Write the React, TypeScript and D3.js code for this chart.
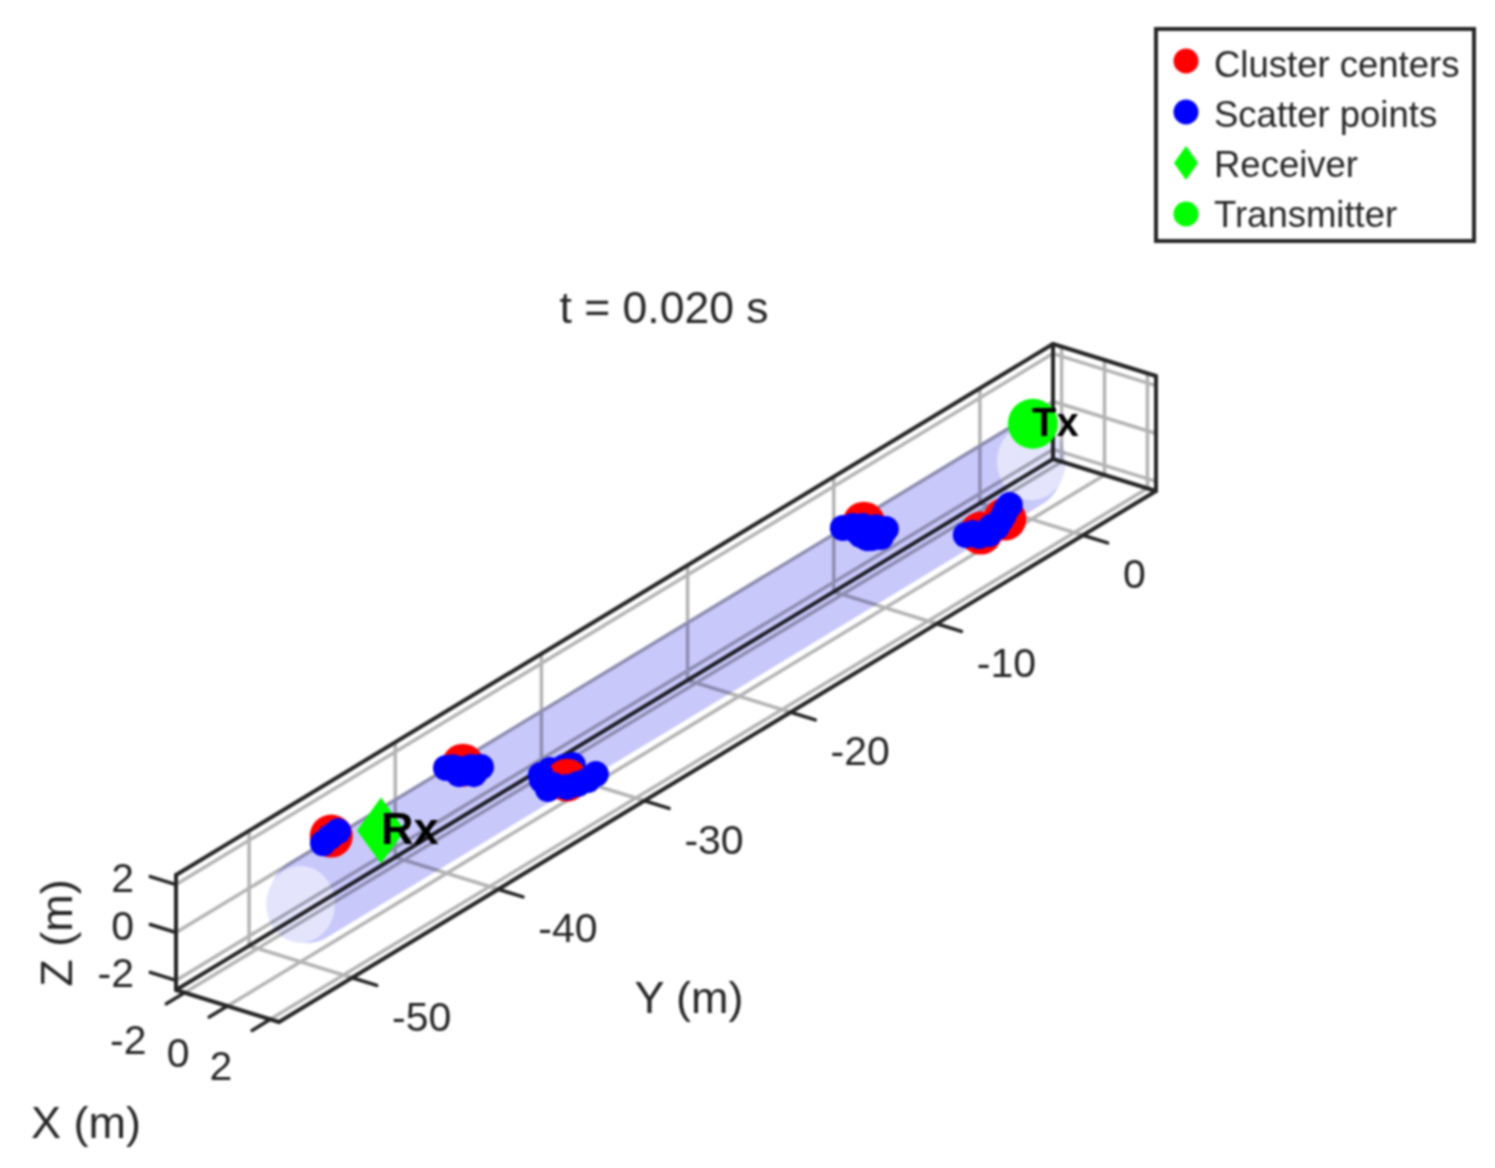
import * as d3 from "d3";

type P3 = [number, number, number];

const xDomain = [-2.4, 2.4];
const yDomain = [-55, 5];
const zDomain = [-2.4, 2.4];
const xTicks = [-2, 0, 2];
const yTicks = [-50, -40, -30, -20, -10, 0];
const zTicks = [-2, 0, 2];

// [x, y, z] in metres
const clusterCenters: P3[] = [
  [0, -47.9, 2.07],
  [0, -38.89, 1.7],
  [0, -31.78, -1.55],
  [0, -11.46, 1.67],
  [0, -3.46, -1.7],
  [0, -1.82, -1.72],
];
const scatterBehind: P3[] = [
  [0, -31.98, -0.93],
  [0, -32.94, -0.7],
  [0, -31.37, -1.07],
];
const scatterFront: P3[] = [
  [0, -48.47, 1.98],
  [0, -47.99, 2.06],
  [0, -47.44, 2.1],
  [0, -40.05, 2.01],
  [0, -39.58, 1.87],
  [0, -39.37, 1.67],
  [0, -39.17, 1.43],
  [0, -38.69, 1.3],
  [0, -38.34, 1.42],
  [0, -38.14, 1.05],
  [0, -38.0, 1.17],
  [0, -37.66, 1.17],
  [0, -38.89, 1.54],
  [0, -33.56, -0.68],
  [0, -33.49, -0.91],
  [0, -33.08, -1.44],
  [0, -32.67, -1.43],
  [0, -31.78, -1.84],
  [0, -31.03, -1.99],
  [0, -30.34, -2.08],
  [0, -29.8, -2.03],
  [0, -12.9, 2.0],
  [0, -12.22, 1.83],
  [0, -12.01, 1.58],
  [0, -11.67, 1.25],
  [0, -11.53, 1.58],
  [0, -11.33, 1.37],
  [0, -11.26, 0.97],
  [0, -10.92, 0.85],
  [0, -10.64, 1.2],
  [0, -10.3, 0.95],
  [0, -10.3, 0.66],
  [0, -9.96, 0.87],
  [0, -4.49, -1.4],
  [0, -4.01, -1.49],
  [0, -3.6, -1.77],
  [0, -2.91, -1.94],
  [0, -2.78, -1.7],
  [0, -2.37, -1.85],
  [0, -2.09, -1.66],
  [0, -1.89, -1.52],
  [0, -1.75, -1.37],
  [0, -1.48, -1.26],
];
const receiver: P3 = [0, -44.5, 1.05];
const transmitter: P3 = [0, 0.1, 1.55];
const capCenters = [-50, 0];
const capRadius = 1.6;
const bandEnds = [-49.5, -0.5];
const bandRadius = 1.8;

const legendLabels = ["Cluster centers", "Scatter points", "Receiver", "Transmitter"];
const legendColors = ["#ff0000", "#0000ff", "#00ff00", "#00ff00"];

const W = 1495;
const H = 1168;
const ink = "#262626";
const font = "'Liberation Sans', Arial, sans-serif";

// the fixed MATLAB view, flattened into linear scales per axis
const xToH = d3.scaleLinear(xDomain, [0, 103]);
const xToV = d3.scaleLinear(xDomain, [0, 32]);
const yToH = d3.scaleLinear(yDomain, [0, 877]);
const yToV = d3.scaleLinear(yDomain, [0, -531]);
const zToV = d3.scaleLinear(zDomain, [0, -115]);

function project([x, y, z]: P3): [number, number] {
  return [176 + xToH(x) + yToH(y), 990 + xToV(x) + yToV(y) + zToV(z)];
}

const line = d3.line();
const closed = d3.line().curve(d3.curveLinearClosed);

function seg(a: P3, b: P3) {
  return line([project(a), project(b)]) as string;
}

// the tube ends look round on screen, not tilted with the x axis
function ring(y: number, radius: number): [number, number][] {
  const [cx, cy] = project([0, y, 0]);
  const rh = xToH(radius) - xToH(0);
  const rv = zToV(0) - zToV(radius);
  return d3.range(72).map((i) => {
    const t = (i / 72) * 2 * Math.PI;
    return [cx + rh * Math.cos(t), cy + rv * Math.sin(t)];
  });
}

const [x0, x1] = xDomain;
const [y0, y1] = yDomain;
const [z0, z1] = zDomain;

const gridLines: string[] = [
  ...xTicks.flatMap((x) => [seg([x, y0, z0], [x, y1, z0]), seg([x, y1, z0], [x, y1, z1])]),
  ...yTicks.flatMap((y) => [seg([x0, y, z0], [x1, y, z0]), seg([x0, y, z0], [x0, y, z1])]),
  ...zTicks.flatMap((z) => [seg([x0, y0, z], [x0, y1, z]), seg([x0, y1, z], [x1, y1, z])]),
];

const boxLines: string[] = [
  seg([x0, y0, z0], [x0, y0, z1]),
  seg([x0, y0, z1], [x0, y1, z1]),
  seg([x0, y1, z1], [x1, y1, z1]),
  seg([x1, y1, z1], [x1, y1, z0]),
  seg([x1, y1, z0], [x0, y1, z0]),
  seg([x0, y1, z0], [x0, y0, z0]),
  seg([x0, y0, z0], [x1, y0, z0]),
  seg([x1, y0, z0], [x1, y1, z0]),
  seg([x0, y1, z0], [x0, y1, z1]),
];

const tickLines: string[] = [
  ...yTicks.map((y) => seg([x1, y, z0], [x1 + 1.15, y, z0])),
  ...xTicks.map((x) => seg([x, y0, z0], [x, y0 - 1.25, z0])),
  ...zTicks.map((z) => seg([x0, y0, z], [x0 - 1.2, y0, z])),
];

const bandHull = d3.polygonHull([
  ...ring(bandEnds[0], bandRadius),
  ...ring(bandEnds[1], bandRadius),
]) as [number, number][];

const diamond = (cx: number, cy: number, w: number, h: number) =>
  closed([
    [cx - w, cy],
    [cx, cy - h],
    [cx + w, cy],
    [cx, cy + h],
  ]) as string;

export default function App() {
  const rx = project(receiver);
  const tx = project(transmitter);
  return (
    <svg
      width={W}
      height={H}
      viewBox={`0 0 ${W} ${H}`}
      style={{ position: "absolute", left: 0, top: 0, display: "block", background: "#fff", filter: "blur(1px)" }}
      fontFamily={font}
    >
      <text x={664} y={323} fontSize={44.5} fill={ink} textAnchor="middle">
        t = 0.020 s
      </text>

      {/* walls and floor */}
      <g fill="none" stroke="#b4b4b4" strokeWidth={3.5}>
        {gridLines.map((d, i) => (
          <path key={i} d={d} />
        ))}
      </g>
      <g fill="none" stroke={ink} strokeWidth={4} strokeLinecap="round">
        {boxLines.map((d, i) => (
          <path key={i} d={d} />
        ))}
        {tickLines.map((d, i) => (
          <path key={i} d={d} strokeWidth={3.5} />
        ))}
      </g>

      {/* see-through tube */}
      <g style={{ mixBlendMode: "multiply" }}>
        <path d={closed(bandHull) as string} fill="#c8c8fb" />
        {capCenters.map((y) => (
          <path key={y} d={closed(ring(y, capRadius)) as string} fill="#e4e4fd" />
        ))}
      </g>

      {/* tick labels */}
      <g fontSize={41} fill={ink}>
        {yTicks.map((y) => {
          const [px, py] = project([x1, y, z0]);
          return (
            <text key={y} x={px + 40} y={py + 53}>
              {y}
            </text>
          );
        })}
        {xTicks.map((x) => {
          const [px, py] = project([x, y0, z0]);
          return (
            <text key={x} x={px - 38} y={py + 61} textAnchor="end">
              {x}
            </text>
          );
        })}
        {zTicks.map((z) => {
          const [px, py] = project([x0, y0, z]);
          return (
            <text key={z} x={px - 42} y={py + 7} textAnchor="end">
              {z}
            </text>
          );
        })}
      </g>

      {/* axis labels */}
      <g fontSize={45} fill={ink}>
        <text x={689} y={1013} textAnchor="middle">
          Y (m)
        </text>
        <text x={86} y={1138} textAnchor="middle">
          X (m)
        </text>
        <text transform="translate(72,933) rotate(-90)" textAnchor="middle">
          Z (m)
        </text>
      </g>

      {/* scatter, back to front */}
      <g fill={legendColors[1]}>
        {scatterBehind.map((p, i) => {
          const [cx, cy] = project(p);
          return <circle key={i} cx={cx} cy={cy} r={13} />;
        })}
      </g>
      <g fill={legendColors[0]}>
        {clusterCenters.map((p, i) => {
          const [cx, cy] = project(p);
          return <circle key={i} cx={cx} cy={cy} r={21.5} />;
        })}
      </g>
      <g fill={legendColors[1]}>
        {scatterFront.map((p, i) => {
          const [cx, cy] = project(p);
          return <circle key={i} cx={cx} cy={cy} r={13} />;
        })}
      </g>

      <path d={diamond(rx[0], rx[1], 24, 33)} fill={legendColors[2]} />
      <circle cx={tx[0]} cy={tx[1]} r={25} fill={legendColors[3]} />
      <g fontWeight="bold" fill="#000">
        <text x={381} y={844} fontSize={45}>
          Rx
        </text>
        <text x={1032} y={436} fontSize={40}>
          Tx
        </text>
      </g>

      {/* legend */}
      <rect x={1156} y={29} width={318} height={212} fill="#fff" stroke={ink} strokeWidth={4} />
      {legendLabels.map((label, i) => {
        const cy = 61 + i * 51;
        return (
          <g key={label}>
            {label === "Receiver" ? (
              <path d={diamond(1186, cy, 12, 17)} fill={legendColors[i]} />
            ) : (
              <circle cx={1186} cy={cy} r={12.5} fill={legendColors[i]} />
            )}
            <text x={1214} y={77 + i * 50} fontSize={36.5} fill={ink}>
              {label}
            </text>
          </g>
        );
      })}
    </svg>
  );
}
